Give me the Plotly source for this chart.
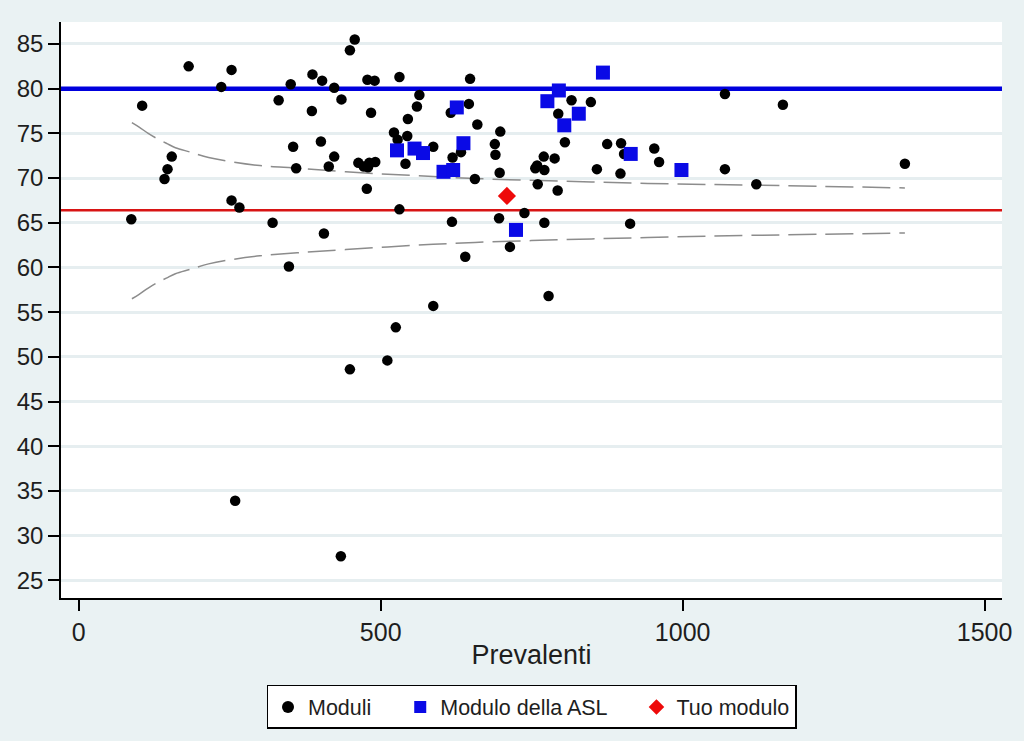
import plotly.graph_objects as go

# ---------------- data ----------------
moduli_x = [87, 105, 142, 147, 154, 182, 236, 253, 253, 266, 259, 321, 331, 351, 355, 360, 348,
            387, 386, 403, 401, 406, 414, 423, 423, 435, 434, 449, 457, 449, 463, 472, 481, 491,
            479, 478, 490, 484, 477, 511, 525, 531, 531, 522, 544, 528, 541, 545, 560, 564, 587,
            587, 616, 618, 619, 633, 640, 646, 648, 656, 660, 689, 690, 697, 698, 696, 714, 738,
            756, 759, 771, 770, 788, 760, 793, 771, 778, 794, 805, 816, 848, 858, 875, 898, 903,
            897, 913, 953, 961, 1070, 1070, 1122, 1166, 1368]
moduli_y = [65.4, 78.1, 69.9, 71.0, 72.4, 82.5, 80.2, 82.1, 67.5, 66.7, 33.9, 65.0, 78.7, 80.5,
            73.5, 71.1, 60.1, 81.6, 77.5, 80.9, 74.1, 63.8, 71.3, 80.1, 72.4, 78.8, 27.7, 84.3,
            85.5, 48.6, 71.7, 71.3, 71.7, 71.8, 71.2, 81.0, 80.9, 77.3, 68.8, 49.6, 53.3, 81.3,
            66.5, 75.1, 74.7, 74.3, 71.6, 76.6, 78.0, 79.3, 73.5, 55.7, 77.3, 65.1, 72.3, 72.9,
            61.2, 78.3, 81.1, 69.9, 76.0, 73.8, 72.6, 70.6, 75.2, 65.5, 62.3, 66.1, 71.1, 71.4,
            70.9, 72.4, 72.2, 69.3, 68.6, 65.0, 56.8, 77.2, 74.0, 78.7, 78.5, 71.0, 73.8, 73.9,
            72.7, 70.5, 64.9, 73.3, 71.8, 79.4, 71.0, 69.3, 78.2, 71.6]

asl_x = [527, 556, 570, 626, 637, 604, 620, 724, 776, 795, 804, 828, 868, 914, 998]
asl_y = [73.1, 73.3, 72.8, 77.9, 73.9, 70.7, 70.9, 64.2, 78.6, 79.8, 75.9, 77.2, 81.8, 72.7, 70.9]

tuo_x = [709]
tuo_y = [68.0]

# funnel limits
funnel_x = [88, 100, 115, 130, 145, 160, 185, 215, 255, 300, 365, 442, 550, 656, 800, 942, 1122, 1368]
funnel_upper = [76.2, 75.7, 75.0, 74.4, 73.9, 73.4, 72.9, 72.3, 71.8, 71.4, 71.1, 70.7, 70.3, 69.95,
                69.65, 69.4, 69.2, 68.9]
funnel_lower = [56.5, 57.0, 57.7, 58.3, 58.8, 59.3, 59.8, 60.4, 60.9, 61.3, 61.65, 62.0, 62.45, 62.8,
                63.1, 63.35, 63.6, 63.85]

media_asl = 80.0
media_riferimento = 66.4

x_range = [-29.4, 1528.8]
y_range = [23.02, 87.46]
x_ticks = [0, 500, 1000, 1500]
y_ticks = [25, 30, 35, 40, 45, 50, 55, 60, 65, 70, 75, 80, 85]
x_title = "Prevalenti"
legend_names = ["Moduli", "Modulo della ASL", "Tuo modulo"]

# ---------------- styles ----------------
BG = "#EAF2F3"
GRID = "#E6EEF0"
FONT = "Liberation Sans, Arial, sans-serif"
TXT = "#1e1e1e"
PAD = "\u00a0" * 4

fig = go.Figure()

# reference lines (drawn as traces so they sit above the grid but beneath the markers)
fig.add_trace(go.Scatter(x=x_range, y=[media_asl, media_asl], mode="lines", showlegend=False,
                         line=dict(color="#0000DD", width=4.5), hoverinfo="skip"))
fig.add_trace(go.Scatter(x=x_range, y=[media_riferimento, media_riferimento], mode="lines",
                         showlegend=False, line=dict(color="#D81414", width=2.5), hoverinfo="skip"))

fig.add_trace(go.Scatter(x=funnel_x, y=funnel_upper, mode="lines", showlegend=False,
                         line=dict(color="#8c8c8c", width=1.5, dash="28px,9px", shape="spline"),
                         hoverinfo="skip"))
fig.add_trace(go.Scatter(x=funnel_x, y=funnel_lower, mode="lines", showlegend=False,
                         line=dict(color="#8c8c8c", width=1.5, dash="28px,9px", shape="spline"),
                         hoverinfo="skip"))

fig.add_trace(go.Scatter(x=moduli_x, y=moduli_y, mode="markers", name=legend_names[0] + PAD,
                         marker=dict(symbol="circle", size=10.5, color="#000000",
                                     line=dict(width=0))))
fig.add_trace(go.Scatter(x=asl_x, y=asl_y, mode="markers", name=legend_names[1] + PAD,
                         marker=dict(symbol="square", size=14, color="#0A0AE6",
                                     line=dict(width=0))))
fig.add_trace(go.Scatter(x=tuo_x, y=tuo_y, mode="markers", name=legend_names[2],
                         marker=dict(symbol="diamond", size=14, color="#EE0A0A",
                                     line=dict(width=0))))

fig.update_layout(
    width=1024, height=741,
    margin=dict(l=61, r=18, t=22, b=142),
    paper_bgcolor=BG, plot_bgcolor="#FFFFFF",
    font=dict(family=FONT, color=TXT),
    showlegend=True,
    legend=dict(orientation="h", x=0.5, xanchor="center", y=-0.151, yanchor="top",
                bgcolor="#FFFFFF", bordercolor="#000000", borderwidth=1.5,
                font=dict(size=21.5, family=FONT, color=TXT),
                itemsizing="constant", traceorder="normal"),
)

fig.update_xaxes(range=x_range, tickvals=x_ticks, ticktext=[str(v) for v in x_ticks],
                 showgrid=False, zeroline=False, showline=True, linecolor="#000000", linewidth=1.5,
                 ticks="outside", ticklen=11, tickwidth=1.5, tickcolor="#000000",
                 tickfont=dict(size=25, family=FONT, color=TXT),
                 title=dict(text=x_title, font=dict(size=27, family=FONT, color=TXT), standoff=0))
fig.update_yaxes(range=y_range, tickvals=y_ticks, ticktext=[str(v) for v in y_ticks],
                 showgrid=True, gridcolor=GRID, gridwidth=2.5, zeroline=False,
                 showline=True, linecolor="#000000", linewidth=1.5,
                 ticks="outside", ticklen=11, tickwidth=1.5, tickcolor="#000000",
                 tickfont=dict(size=24, family=FONT, color=TXT))

fig.write_html("out.html")
